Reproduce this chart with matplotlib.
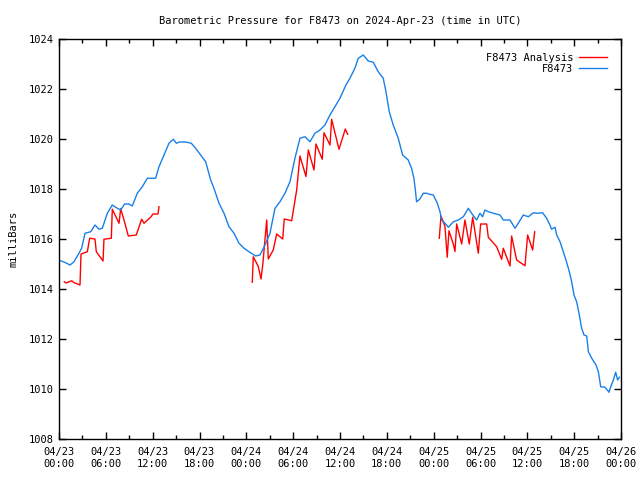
import matplotlib
matplotlib.use('Agg')
from matplotlib import pyplot as plt

# Hours since 04/23 00:00 UTC and pressure in millibars

station_hours = [0, 0.21, 0.85, 1.41, 1.92, 2.56, 2.90, 3.33, 4.06, 4.61, 5.12, 5.55, 6.19, 6.83,
	7.47, 7.90, 8.41, 8.97, 9.39, 10.03, 10.67, 11.32, 11.74, 12.38, 12.81, 13.45, 14.09,
	14.65, 15.03, 15.46, 16.23, 16.95, 17.5, 18.15, 18.79, 19.43, 19.85, 20.5, 21.14,
	21.78, 22.42, 23.06, 23.70, 24.34, 25.19, 25.75, 26.39, 27.03, 27.67, 28.31, 28.95,
	29.59, 30.23, 30.87, 31.51, 32.15, 32.79, 33.43, 34.07, 34.71, 35.35, 35.99, 36.76,
	37.27, 37.91, 38.34, 38.98, 39.62, 40.26, 40.90, 41.54, 41.89, 42.31, 42.82, 43.46,
	44.02, 44.74, 45.17, 45.47, 45.68, 45.81, 46.24, 46.67, 47.10, 47.44, 47.96, 48.47,
	48.81, 49.02, 49.45, 49.88, 50.52, 51.16, 51.8, 52.44, 52.86, 53.5, 53.93, 54.27,
	54.57, 55.0, 55.64, 56.5, 56.92, 57.78, 58.42, 58.84, 59.48, 60.13, 60.77, 61.28,
	61.96, 62.47, 62.9, 63.1, 63.55, 63.76, 64.19, 64.61, 64.95, 65.38, 65.68, 65.98,
	66.32, 66.66, 66.96, 67.26, 67.61, 67.82, 68.25, 68.8, 69.1, 69.4, 69.96, 70.47,
	70.68, 71.02, 71.32, 71.57, 71.79]
station_mb = [1015.12, 1015.13, 1015.05, 1014.96, 1015.09, 1015.43, 1015.63, 1016.23, 1016.29,
	1016.56, 1016.39, 1016.43, 1017.03, 1017.36, 1017.23, 1017.16, 1017.4, 1017.4,
	1017.32, 1017.83, 1018.09, 1018.43, 1018.43, 1018.43, 1018.89, 1019.36, 1019.83,
	1019.99, 1019.83, 1019.88, 1019.88, 1019.83, 1019.63, 1019.36, 1019.09, 1018.36,
	1018.03, 1017.43, 1017.03, 1016.49, 1016.23, 1015.83, 1015.63, 1015.49, 1015.32,
	1015.36, 1015.76, 1016.23, 1017.23, 1017.49, 1017.83, 1018.29, 1019.23, 1020.03,
	1020.09, 1019.89, 1020.23, 1020.36, 1020.56, 1020.96, 1021.29, 1021.63, 1022.16,
	1022.43, 1022.83, 1023.23, 1023.36, 1023.12, 1023.07, 1022.69, 1022.43, 1021.89,
	1021.09, 1020.56, 1020.03, 1019.36, 1019.16, 1018.83, 1018.43, 1017.89, 1017.49,
	1017.6, 1017.83, 1017.83, 1017.79, 1017.76, 1017.43, 1017.09, 1016.76, 1016.63,
	1016.47, 1016.69, 1016.76, 1016.89, 1017.23, 1017.03, 1016.76, 1017.03, 1016.89,
	1017.16, 1017.09, 1017.03, 1016.96, 1016.76, 1016.76, 1016.43, 1016.63, 1016.96,
	1016.89, 1017.05, 1017.03, 1017.05, 1016.83, 1016.56, 1016.39, 1016.47, 1016.16,
	1015.89, 1015.49, 1015.16, 1014.69, 1014.29, 1013.76, 1013.49, 1012.96, 1012.43,
	1012.16, 1012.12, 1011.49, 1011.23, 1010.96, 1010.69, 1010.09, 1010.07, 1009.87,
	1010.09, 1010.36, 1010.67, 1010.36, 1010.47]

analysis_hours_1 = [0.68, 0.90, 1.63, 1.96, 2.69, 2.82, 3.63, 3.93, 4.61, 4.78, 5.64, 5.76, 6.70,
	6.83, 7.69, 7.90, 8.33, 8.88, 9.90, 10.59, 10.89, 11.74, 12.04, 12.68, 12.81]
analysis_mb_1 = [1014.29, 1014.24, 1014.33, 1014.25, 1014.16, 1015.4, 1015.49, 1016.03, 1016.0,
	1015.49, 1015.12, 1015.99, 1016.03, 1017.19, 1016.63, 1017.21, 1016.76, 1016.12,
	1016.16, 1016.79, 1016.63, 1016.87, 1017.0, 1017.0, 1017.29]

analysis_hours_2 = [24.76, 24.89, 25.53, 25.88, 26.10, 26.61, 26.81, 27.45, 27.89, 28.66, 28.86,
	29.81, 30.45, 30.87, 31.64, 31.94, 32.67, 32.92, 33.73, 33.95, 34.72, 34.93, 35.87,
	36.68, 36.98]
analysis_mb_2 = [1014.27, 1015.29, 1014.9, 1014.4, 1014.96, 1016.76, 1015.2, 1015.56, 1016.2,
	1016.0, 1016.8, 1016.73, 1017.96, 1019.32, 1018.5, 1019.56, 1018.76, 1019.8, 1019.19,
	1020.25, 1019.76, 1020.79, 1019.59, 1020.4, 1020.19]

analysis_hours_3 = [48.72, 48.94, 49.45, 49.74, 49.96, 50.51, 50.73, 50.95, 51.59, 52.01, 52.56,
	53.00, 53.72, 54.02, 54.79, 55.00, 56.07, 56.71, 56.92, 57.78, 57.99, 58.63, 59.70,
	60.04, 60.68, 60.94]
analysis_mb_3 = [1016.03, 1016.92, 1016.5, 1015.27, 1016.33, 1015.8, 1015.5, 1016.6, 1015.8,
	1016.76, 1015.8, 1016.87, 1015.43, 1016.6, 1016.6, 1016.07, 1015.69, 1015.19, 1015.63,
	1014.92, 1016.12, 1015.16, 1014.93, 1016.16, 1015.56, 1016.29]

tick_hours = [0, 6, 12, 18, 24, 30, 36, 42, 48, 54, 60, 66, 72]
tick_labels = ['04/23\n00:00', '04/23\n06:00', '04/23\n12:00', '04/23\n18:00',
	'04/24\n00:00', '04/24\n06:00', '04/24\n12:00', '04/24\n18:00',
	'04/25\n00:00', '04/25\n06:00', '04/25\n12:00', '04/25\n18:00', '04/26\n00:00']

RED = '#ff0000'
BLUE = '#1a80e8'
plt.rcParams['font.family'] = 'DejaVu Sans Mono'
plt.rcParams['font.size'] = 7.5

fig = plt.figure(figsize=(6.4, 4.8), dpi=100)
ax = fig.add_axes([59/640, 1-439/480, 562/640, 400/480])

ax.plot(analysis_hours_1, analysis_mb_1, color=RED, lw=1, label='F8473 Analysis')
ax.plot(analysis_hours_2, analysis_mb_2, color=RED, lw=1)
ax.plot(analysis_hours_3, analysis_mb_3, color=RED, lw=1)
ax.plot(station_hours, station_mb, color=BLUE, lw=1, label='F8473')

ax.set_xlim(0, 72)
ax.set_ylim(1008, 1024)
ax.set_xticks(tick_hours)
ax.set_xticklabels(tick_labels)
ax.set_xticks(range(3, 72, 6), minor=True)
ax.set_yticks(range(1008, 1025, 2))
ax.tick_params(which='both', direction='in', top=True, right=True, width=1)
ax.tick_params(which='major', length=5)
ax.tick_params(which='minor', length=3)
ax.tick_params(axis='x', pad=6)
for spine in ax.spines.values():
	spine.set_linewidth(1)

ax.set_ylabel('milliBars', labelpad=8)
ax.set_title('Barometric Pressure for F8473 on 2024-Apr-23 (time in UTC)', fontsize=7.5, pad=11)

ax.legend(loc='upper right', frameon=False, markerfirst=False, handlelength=2.7,
	borderaxespad=0.9, labelspacing=0.1, handletextpad=0.6)

fig.savefig('out.png', dpi=100)
